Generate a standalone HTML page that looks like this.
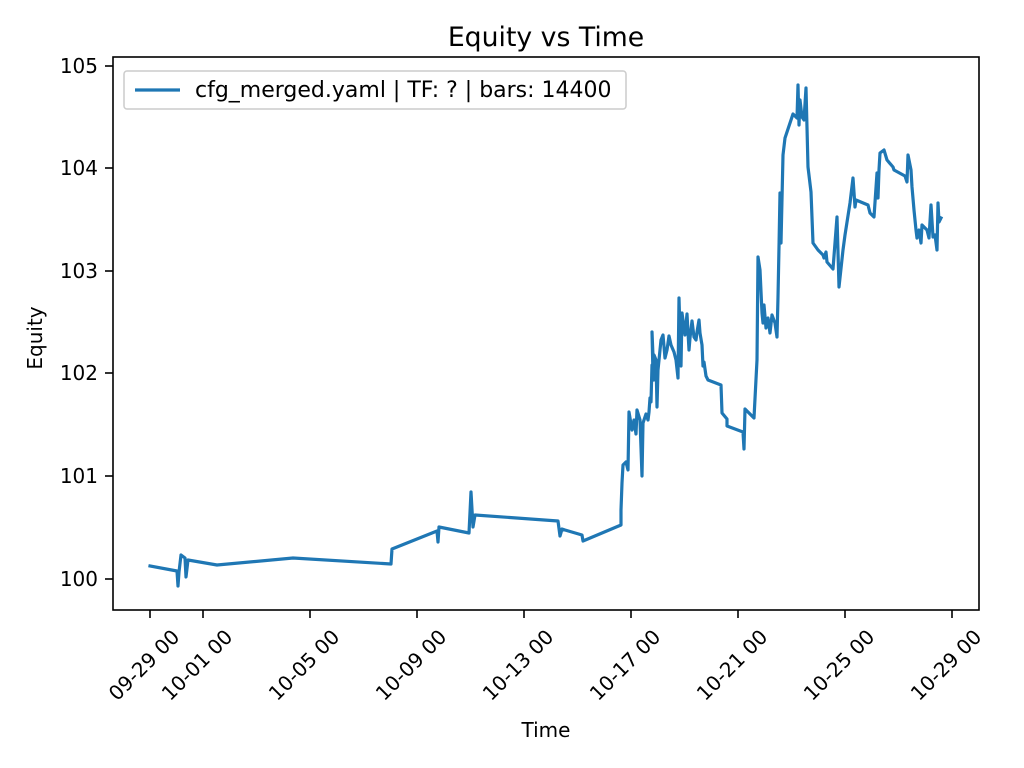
<!DOCTYPE html>
<html><head><style>body{margin:0;background:#fff}svg{display:block}text{font-family:"DejaVu Sans","Liberation Sans",sans-serif;fill:#000}</style></head><body>
<svg width="1024" height="768" viewBox="0 0 1024 768" xmlns="http://www.w3.org/2000/svg">
<rect width="1024" height="768" fill="#fff"/>
<text x="546" y="46" font-size="26.7" text-anchor="middle">Equity vs Time</text>
<polyline fill="none" stroke="#1f77b4" stroke-width="3.2" stroke-linejoin="round" stroke-linecap="square" points="150,566 177,571 178,586 179,572 181,555 185,558 186,577 188,560 217,565 293,558 391,564 392,549 437,531 438,542 439,527 469,533 471,492 473,527 475,515 558,521 560,536 562,529 565,530 582,535 583,541 621,525 621,510 622,483 623,465 626,462 628,470 629,412 632,430 634,420 636,434 637,410 640,420 642,476 643,423 646,414 648,420 649,412 650,398 651,402 652,365 653,364 654,380 652,332 653,375 654,355 656,360 657,407 658,370 661,340 663,335 665,358 667,350 669,336 671,345 674,352 676,360 678,378 679,298 681,366 682,313 685,335 687,314 689,350 690,338 692,321 694,337 696,340 697,332 699,320 700,333 702,345 703,366 704,362 706,376 708,380 721,385 722,413 727,419 727,426 743,432 744,449 745,409 754,418 757,360 758,257 760,270 762,313 763,323 764,305 766,328 768,318 770,333 772,315 775,323 777,337 778,297 779,247 780,193 781,243 783,155 785,138 793,114 797,118 798,85 799,125 800,100 802,117 804,120 806,88 808,167 811,192 813,243 818,250 823,255 824,258 826,252 827,262 833,269 837,217 839,287 843,250 845,235 850,203 853,178 855,207 856,200 868,205 870,213 874,217 877,173 878,198 879,170 880,153 884,150 887,160 893,167 894,170 905,176 907,182 908,155 911,170 912,187 914,210 916,230 917,238 919,230 921,243 922,225 927,230 929,238 931,205 933,237 935,235 937,250 938,203 939,222 941,218"/>
<rect x="113" y="57" width="866" height="553" fill="none" stroke="#000" stroke-width="1.6"/>
<g stroke="#000" stroke-width="1.6">
<line x1="113" y1="579" x2="105" y2="579"/><line x1="113" y1="476" x2="105" y2="476"/><line x1="113" y1="373" x2="105" y2="373"/><line x1="113" y1="271" x2="105" y2="271"/><line x1="113" y1="168" x2="105" y2="168"/><line x1="113" y1="66" x2="105" y2="66"/>
<line x1="150" y1="610" x2="150" y2="618"/><line x1="203" y1="610" x2="203" y2="618"/><line x1="310" y1="610" x2="310" y2="618"/><line x1="417" y1="610" x2="417" y2="618"/><line x1="524" y1="610" x2="524" y2="618"/><line x1="631" y1="610" x2="631" y2="618"/><line x1="738" y1="610" x2="738" y2="618"/><line x1="845" y1="610" x2="845" y2="618"/><line x1="952" y1="610" x2="952" y2="618"/>
</g>
<g font-size="20" text-anchor="end">
<text x="98" y="586">100</text><text x="98" y="483">101</text><text x="98" y="380">102</text><text x="98" y="278">103</text><text x="98" y="175">104</text><text x="98" y="73">105</text>
</g>
<g font-size="20" text-anchor="middle">
<text transform="translate(144,665) rotate(-45)" dy="7">09-29 00</text>
<text transform="translate(197,665) rotate(-45)" dy="7">10-01 00</text>
<text transform="translate(304,665) rotate(-45)" dy="7">10-05 00</text>
<text transform="translate(411,665) rotate(-45)" dy="7">10-09 00</text>
<text transform="translate(518,665) rotate(-45)" dy="7">10-13 00</text>
<text transform="translate(625,665) rotate(-45)" dy="7">10-17 00</text>
<text transform="translate(732,665) rotate(-45)" dy="7">10-21 00</text>
<text transform="translate(839,665) rotate(-45)" dy="7">10-25 00</text>
<text transform="translate(946,665) rotate(-45)" dy="7">10-29 00</text>
</g>
<text x="546" y="737" font-size="20" text-anchor="middle">Time</text>
<text transform="translate(42,338) rotate(-90)" font-size="20" text-anchor="middle">Equity</text>
<rect x="124" y="71" width="502" height="38" rx="3" fill="#fff" fill-opacity="0.8" stroke="#ccc" stroke-width="1.5"/>
<line x1="135" y1="90" x2="180" y2="90" stroke="#1f77b4" stroke-width="3.2"/>
<text x="195" y="97" font-size="22">cfg_merged.yaml | TF: ? | bars: 14400</text>
</svg>
</body></html>
